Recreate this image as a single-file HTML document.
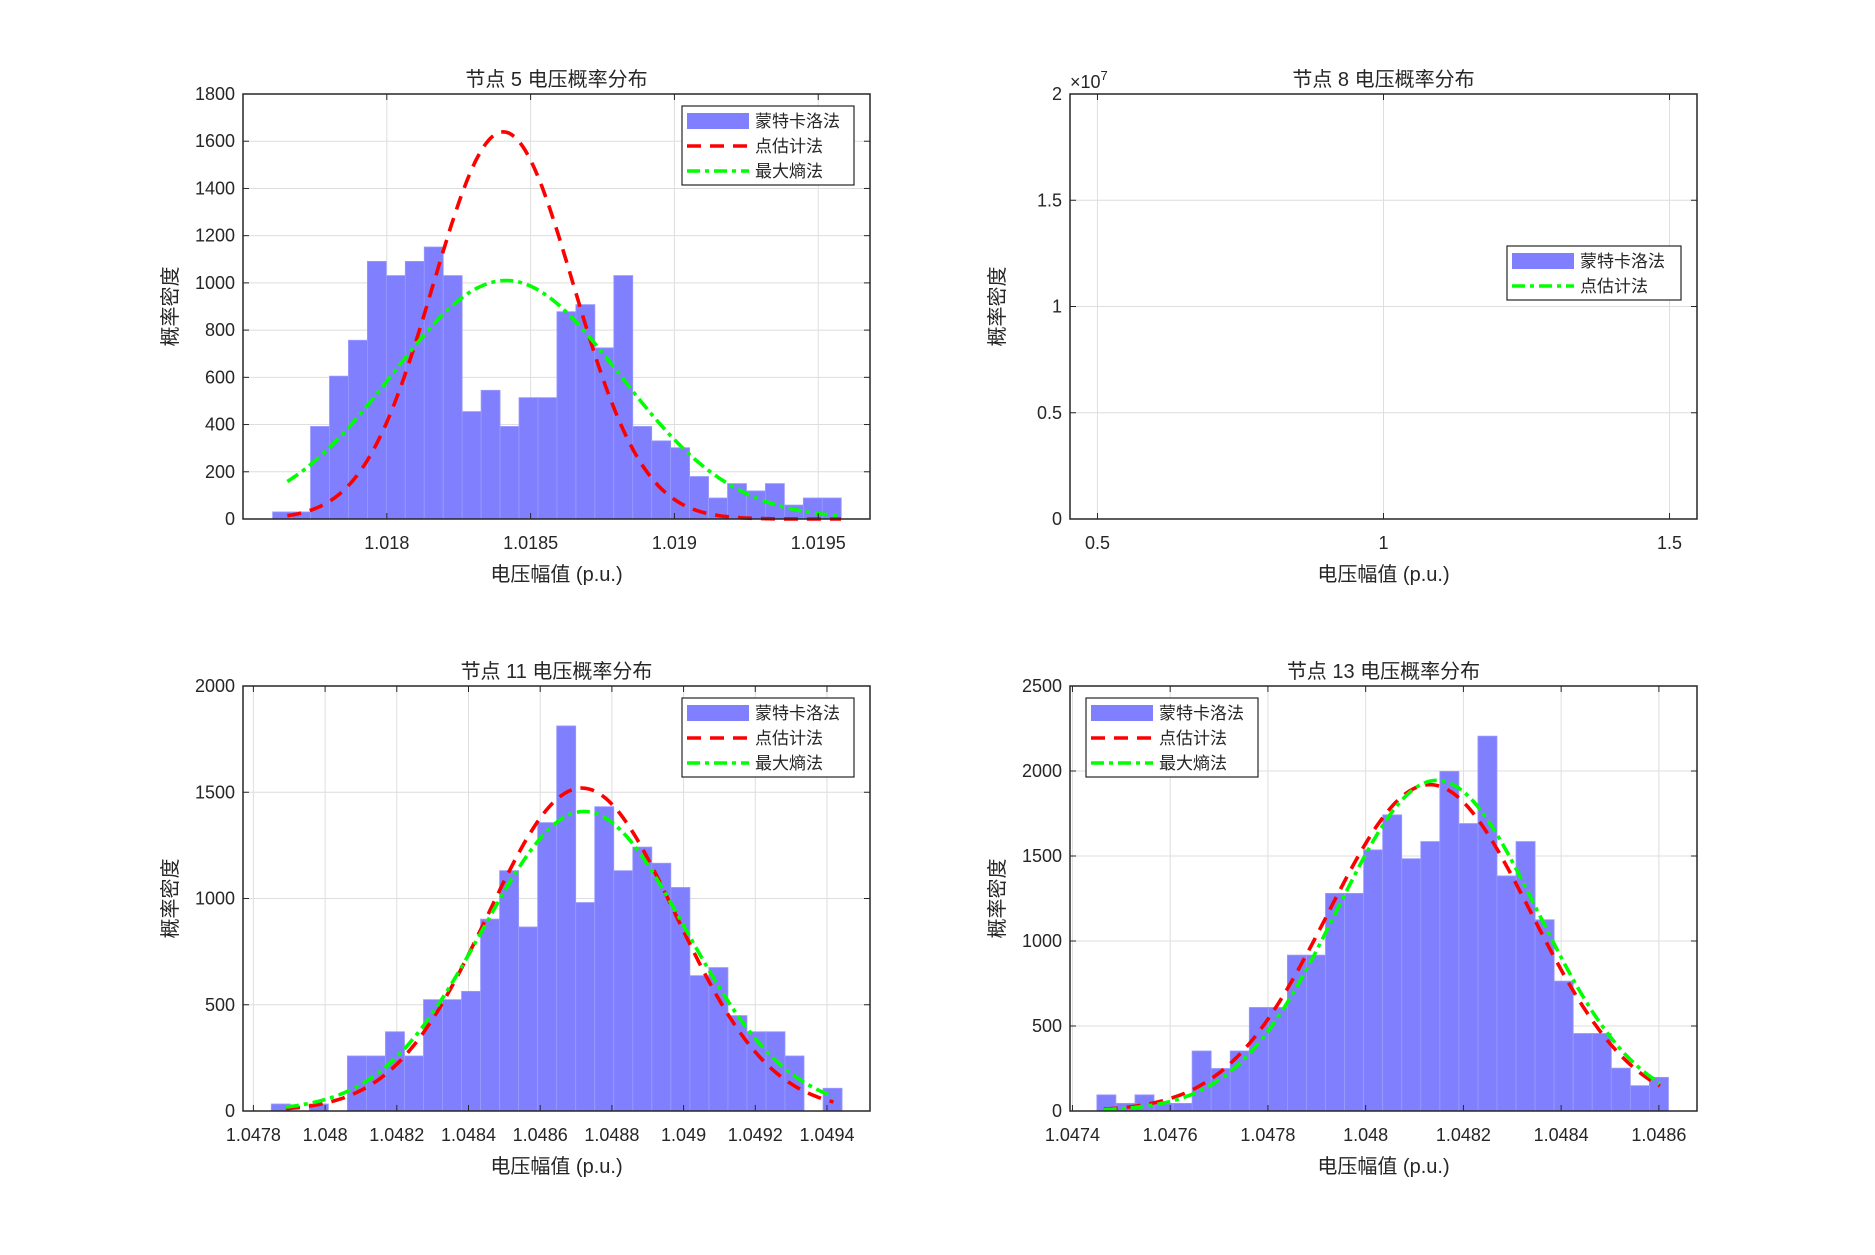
<!DOCTYPE html>
<html><head><meta charset="utf-8">
<style>
html,body{margin:0;padding:0;background:#fff;}
svg text{font-family:"Liberation Sans","Noto Sans CJK SC",sans-serif;fill:#262626;}
</style></head>
<body>
<svg id="s" width="1875" height="1250" xmlns="http://www.w3.org/2000/svg"></svg>
<script>
const S=document.getElementById('s');let h='';
function X(a,v){return a.x0+(v-a.xmin)/(a.xmax-a.xmin)*(a.x1-a.x0);}
function Y(a,v){return a.y1-(v-a.ymin)/(a.ymax-a.ymin)*(a.y1-a.y0);}
function gauss(m,s,x){return Math.exp(-0.5*((x-m)/s)**2)/(s*Math.sqrt(2*Math.PI));}
function curve(a,m,s,xa,xb,col,dash){let p='';for(let i=0;i<=200;i++){const x=xa+(xb-xa)*i/200;p+=(i?'L':'M')+X(a,x).toFixed(1)+','+Y(a,gauss(m,s,x)).toFixed(1);}
h+=`<path d="${p}" fill="none" stroke="${col}" stroke-width="3.6" stroke-dasharray="${dash}"/>`;}
function axes(a){
 h+=`<rect x="${a.x0}" y="${a.y0}" width="${a.x1-a.x0}" height="${a.y1-a.y0}" fill="#fff"/>`;
 a.xt.forEach(t=>{const x=X(a,t[0]);h+=`<line x1="${x}" y1="${a.y0}" x2="${x}" y2="${a.y1}" stroke="#dedede" stroke-width="1"/>`;});
 a.yt.forEach(t=>{const y=Y(a,t[0]);h+=`<line x1="${a.x0}" y1="${y}" x2="${a.x1}" y2="${y}" stroke="#dedede" stroke-width="1"/>`;});
}
function frame(a){
 a.xt.forEach(t=>{const x=X(a,t[0]);h+=`<line x1="${x}" y1="${a.y1}" x2="${x}" y2="${a.y1-6}" stroke="#262626"/><line x1="${x}" y1="${a.y0}" x2="${x}" y2="${a.y0+6}" stroke="#262626"/><text x="${x}" y="${a.y1+30}" font-size="18" text-anchor="middle">${t[1]}</text>`;});
 a.yt.forEach(t=>{const y=Y(a,t[0]);h+=`<line x1="${a.x0}" y1="${y}" x2="${a.x0+6}" y2="${y}" stroke="#262626"/><line x1="${a.x1}" y1="${y}" x2="${a.x1-6}" y2="${y}" stroke="#262626"/><text x="${a.x0-8}" y="${y+6}" font-size="18" text-anchor="end">${t[1]}</text>`;});
 h+=`<rect x="${a.x0}" y="${a.y0}" width="${a.x1-a.x0}" height="${a.y1-a.y0}" fill="none" stroke="#262626" stroke-width="1.5"/>`;
 const cx=(a.x0+a.x1)/2;
 h+=`<text x="${cx}" y="${a.y0-8}" font-size="20" text-anchor="middle">${a.title}</text>`;
 h+=`<text x="${cx}" y="${a.y1+62}" font-size="20" text-anchor="middle">电压幅值 (p.u.)</text>`;
 const cy=(a.y0+a.y1)/2;
 h+=`<text x="0" y="0" font-size="20" text-anchor="middle" transform="translate(${a.x0-66},${cy}) rotate(-90)">概率密度</text>`;
}
function hist(a,start,w,hs){hs.forEach((v,i)=>{if(v<=0)return;const xa=X(a,start+i*w),xb=X(a,start+(i+1)*w),y=Y(a,v);
 h+=`<rect x="${xa}" y="${y}" width="${xb-xa}" height="${a.y1-y}" fill="#8080ff" stroke="#9a9aff" stroke-width="0.8"/>`;});}
function legend(x,y,w,items){const hh=items.length*25+4;
 h+=`<rect x="${x}" y="${y}" width="${w}" height="${hh}" fill="#fff" stroke="#262626" stroke-width="1.2"/>`;
 items.forEach((it,i)=>{const cy=y+15+i*25;
  if(it[0]=='p')h+=`<rect x="${x+5}" y="${cy-8}" width="62" height="16" fill="#8080ff"/>`;
  else if(it[0]=='r')h+=`<line x1="${x+5}" y1="${cy}" x2="${x+67}" y2="${cy}" stroke="#f00" stroke-width="3.6" stroke-dasharray="14,9"/>`;
  else h+=`<line x1="${x+5}" y1="${cy}" x2="${x+67}" y2="${cy}" stroke="#0f0" stroke-width="3.6" stroke-dasharray="13,5,4,5"/>`;
  h+=`<text x="${x+73}" y="${cy+6}" font-size="17">${it[1]}</text>`;});}
const RX0=1070,RX1=1697,LX0=243,LX1=870,BY0=686,BY1=1111;
// Axes 1
let a={x0:LX0,x1:LX1,y0:94,y1:519,xmin:1.0175,xmax:1.01968,ymin:0,ymax:1800,title:'节点 5 电压概率分布',
 xt:[[1.018,'1.018'],[1.0185,'1.0185'],[1.019,'1.019'],[1.0195,'1.0195']],
 yt:[0,200,400,600,800,1000,1200,1400,1600,1800].map(v=>[v,v])};
axes(a);
hist(a,1.017603,0.0000659,[30,30,392,605,757,1091,1031,1091,1152,1031,455,545,392,514,514,878,908,725,1031,392,331,302,180,89,150,119,150,59,89,89]);
curve(a,1.018405,0.0002433,1.017654,1.019579,'#f00','14,9');
curve(a,1.018414,0.000395,1.017654,1.019579,'#0f0','13,5,4,5');
frame(a);legend(682,106,172,[['p','蒙特卡洛法'],['r','点估计法'],['g','最大熵法']]);
// Axes 2
a={x0:RX0,x1:RX1,y0:94,y1:519,xmin:0.452,xmax:1.548,ymin:0,ymax:2,title:'节点 8 电压概率分布',
 xt:[[0.5,'0.5'],[1,'1'],[1.5,'1.5']],yt:[[0,'0'],[0.5,'0.5'],[1,'1'],[1.5,'1.5'],[2,'2']]};
axes(a);frame(a);
h+=`<text x="${RX0}" y="88" font-size="18">×10<tspan font-size="13" dy="-8">7</tspan></text>`;
legend(1507,246,174,[['p','蒙特卡洛法'],['g','点估计法']]);
// Axes 3
a={x0:LX0,x1:LX1,y0:BY0,y1:BY1,xmin:1.047771,xmax:1.04952,ymin:0,ymax:2000,title:'节点 11 电压概率分布',
 xt:[[1.0478,'1.0478'],[1.048,'1.048'],[1.0482,'1.0482'],[1.0484,'1.0484'],[1.0486,'1.0486'],[1.0488,'1.0488'],[1.049,'1.049'],[1.0492,'1.0492'],[1.0494,'1.0494']],
 yt:[0,500,1000,1500,2000].map(v=>[v,v])};
axes(a);
const w3=39.7/149.6*0.0002, s3=1.047771+(257-198)/149.6*0.0002;
hist(a,s3,w3,[33,0,33,0,259,259,373,259,524,524,563,903,1131,866,1357,1812,981,1432,1131,1242,1166,1052,637,675,449,373,373,259,0,107]);
curve(a,1.048716,0.0002625,1.047891,1.049418,'#f00','14,9');
curve(a,1.048723,0.000283,1.047891,1.049418,'#0f0','13,5,4,5');
frame(a);legend(682,698,172,[['p','蒙特卡洛法'],['r','点估计法'],['g','最大熵法']]);
// Axes 4
a={x0:RX0,x1:RX1,y0:BY0,y1:BY1,xmin:1.047395,xmax:1.048678,ymin:0,ymax:2500,title:'节点 13 电压概率分布',
 xt:[[1.0474,'1.0474'],[1.0476,'1.0476'],[1.0478,'1.0478'],[1.048,'1.048'],[1.0482,'1.0482'],[1.0484,'1.0484'],[1.0486,'1.0486']],
 yt:[0,500,1000,1500,2000,2500].map(v=>[v,v])};
axes(a);
const w4=39.73/203.8*0.0002, s4=1.047395+(246-190)/203.8*0.0002;
hist(a,s4,w4,[95,45,95,45,45,353,250,353,609,609,917,917,1280,1280,1536,1742,1484,1585,1998,1691,2205,1383,1585,1125,764,456,456,252,149,198]);
curve(a,1.048131,0.0002078,1.047464,1.048602,'#f00','14,9');
curve(a,1.048146,0.0002051,1.047464,1.048602,'#0f0','13,5,4,5');
frame(a);legend(1086,698,172,[['p','蒙特卡洛法'],['r','点估计法'],['g','最大熵法']]);
S.innerHTML=h;
</script>
</body></html>
